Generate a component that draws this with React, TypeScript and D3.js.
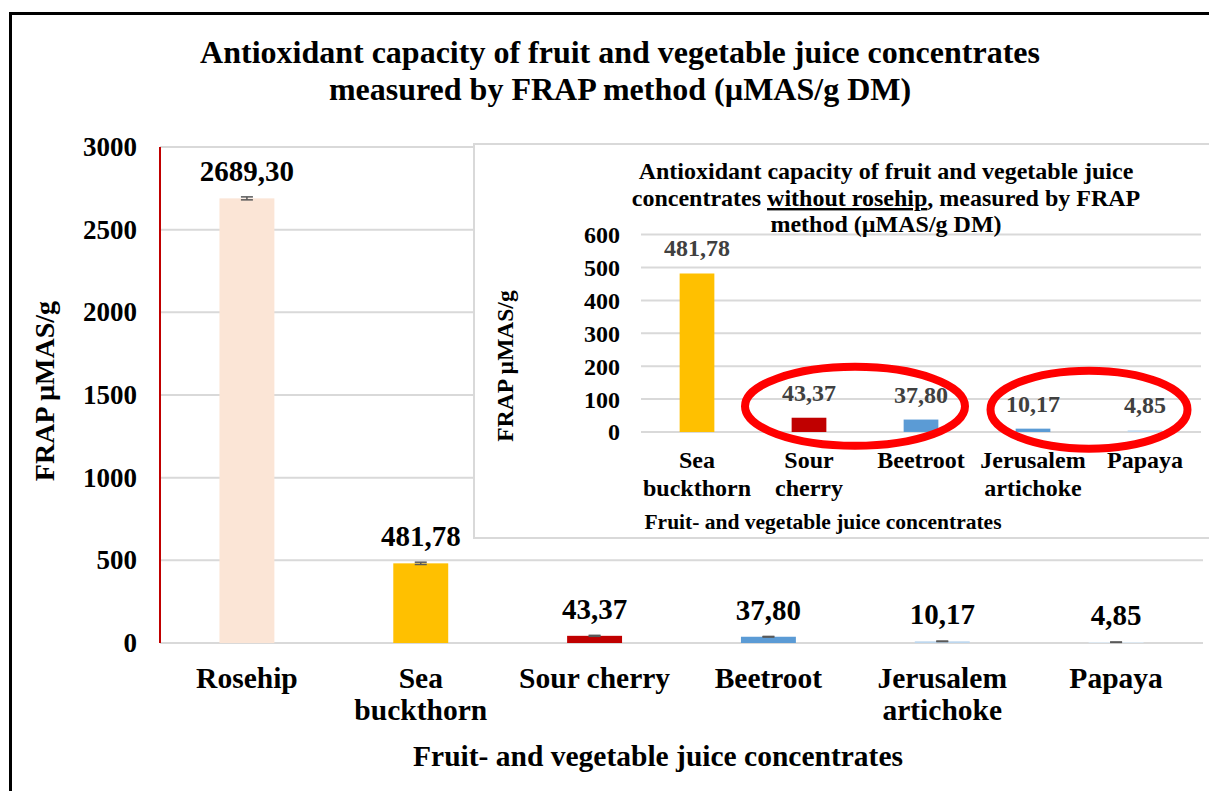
import * as d3 from 'd3';

const categories = ['Rosehip', 'Sea buckthorn', 'Sour cherry', 'Beetroot', 'Jerusalem artichoke', 'Papaya'];
const mainLabelLines = [['Rosehip'], ['Sea', 'buckthorn'], ['Sour cherry'], ['Beetroot'], ['Jerusalem', 'artichoke'], ['Papaya']];
const values = [2689.3, 481.78, 43.37, 37.8, 10.17, 4.85];
const errors = [9, 7, 3, 2, 1.5, 1.2];
const mainColors = ['#FBE5D6', '#FFC000', '#C00000', '#5B9BD5', '#BDD7EE', '#DEEBF7'];
const mainTicks = [0, 500, 1000, 1500, 2000, 2500, 3000];

const insetCategories = categories.slice(1);
const insetLabelLines = [['Sea', 'buckthorn'], ['Sour', 'cherry'], ['Beetroot'], ['Jerusalem', 'artichoke'], ['Papaya']];
const insetValues = values.slice(1);
const insetColors = ['#FFC000', '#C00000', '#5B9BD5', '#5B9BD5', '#BDD7EE'];
const insetTicks = [0, 100, 200, 300, 400, 500, 600];

const titleLines = ['Antioxidant capacity of fruit and vegetable juice concentrates', 'measured by FRAP method (µMAS/g DM)'];
const xTitle = 'Fruit- and vegetable juice concentrates';
const yTitle = 'FRAP µMAS/g';

const FONT = '"Liberation Serif", "Times New Roman", serif';
const fmt = (v: number) => d3.format('.2f')(v).replace('.', ',');

export default function App() {
  // main chart scales
  const x = d3.scaleBand<string>().domain(categories).range([160, 1203]).padding(0);
  const y = d3.scaleLinear().domain([0, 3000]).range([643, 147]);
  const barW = x.bandwidth() * 0.316;
  const cx = (c: string) => (x(c) ?? 0) + x.bandwidth() / 2;

  // inset scales
  const xi = d3.scaleBand<string>().domain(insetCategories).range([641, 1201]).padding(0);
  const yi = d3.scaleLinear().domain([0, 600]).range([432, 234.6]);
  const barWi = xi.bandwidth() * 0.31;
  const cxi = (c: string) => (xi(c) ?? 0) + xi.bandwidth() / 2;

  // annotation ellipses around the small values
  const ell = [
    { cx: (cxi('Sour cherry') + cxi('Beetroot')) / 2 - 10, cy: yi(78), rx: 110, ry: 39.5 },
    { cx: (cxi('Jerusalem artichoke') + cxi('Papaya')) / 2, cy: yi(68), rx: 98.5, ry: 39 },
  ];

  return (
    <div style={{ position: 'fixed', left: 0, top: 0 }}>
      <svg width={1209} height={791} style={{ display: 'block', background: '#fff', fontFamily: FONT }}>
        <rect x={10.5} y={13.5} width={1300} height={900} fill="#fff" stroke="#000" strokeWidth={3} />

        {titleLines.map((t, i) => (
          <text key={t} x={620} y={63 + i * 37} textAnchor="middle" fontSize={32} fontWeight="bold">{t}</text>
        ))}

        {/* gridlines */}
        {mainTicks.map(t => (
          <line key={t} x1={160} x2={1203} y1={y(t)} y2={y(t)} stroke="#D9D9D9" strokeWidth={2} />
        ))}
        <line x1={160} x2={160} y1={y(3000)} y2={y(0)} stroke="#C00000" strokeWidth={2} />

        {mainTicks.map(t => (
          <text key={t} x={137} y={y(t)} dy="0.33em" textAnchor="end" fontSize={27} fontWeight="bold">{t}</text>
        ))}

        {categories.map((c, i) => (
          <g key={c}>
            <rect x={cx(c) - barW / 2} y={y(values[i])} width={barW} height={y(0) - y(values[i])} fill={mainColors[i]} />
            <line x1={cx(c)} x2={cx(c)} y1={y(values[i] + errors[i])} y2={y(values[i] - errors[i])} stroke="#595959" strokeWidth={1.5} />
            <line x1={cx(c) - 6} x2={cx(c) + 6} y1={y(values[i] + errors[i])} y2={y(values[i] + errors[i])} stroke="#595959" strokeWidth={1.5} />
            <line x1={cx(c) - 6} x2={cx(c) + 6} y1={y(values[i] - errors[i])} y2={y(values[i] - errors[i])} stroke="#595959" strokeWidth={1.5} />
            <text x={cx(c)} y={y(values[i]) - 17} textAnchor="middle" fontSize={29} fontWeight="bold">{fmt(values[i])}</text>
            {mainLabelLines[i].map((l, j) => (
              <text key={l} x={cx(c)} y={688 + j * 32} textAnchor="middle" fontSize={29.5} fontWeight="bold">{l}</text>
            ))}
          </g>
        ))}

        <text x={658} y={766} textAnchor="middle" fontSize={29.5} fontWeight="bold">{xTitle}</text>
        <text transform="translate(54,391) rotate(-90)" textAnchor="middle" fontSize={28} fontWeight="bold">{yTitle}</text>

        {/* inset chart */}
        <rect x={474} y={144} width={800} height={394} fill="#fff" stroke="#D9D9D9" strokeWidth={2} />
        {insetTicks.map(t => (
          <line key={t} x1={641} x2={1201} y1={yi(t)} y2={yi(t)} stroke="#D9D9D9" strokeWidth={2} />
        ))}
        <text x={886} y={179} textAnchor="middle" fontSize={24} fontWeight="bold">Antioxidant capacity of fruit and vegetable juice</text>
        <text x={886} y={206} textAnchor="middle" fontSize={24} fontWeight="bold">
          concentrates <tspan style={{ textDecoration: 'underline' }}>without rosehip</tspan>, measured by FRAP
        </text>
        <text x={886} y={232} textAnchor="middle" fontSize={24} fontWeight="bold">method (µMAS/g DM)</text>

        {insetTicks.map(t => (
          <text key={t} x={620} y={yi(t)} dy="0.35em" textAnchor="end" fontSize={24} fontWeight="bold">{t}</text>
        ))}

        {insetCategories.map((c, i) => (
          <g key={c}>
            <rect x={cxi(c) - barWi / 2} y={yi(insetValues[i])} width={barWi} height={yi(0) - yi(insetValues[i])} fill={insetColors[i]} />
            <text x={cxi(c)} y={yi(insetValues[i]) - 17} textAnchor="middle" fontSize={24} fontWeight="bold" fill="#404040">{fmt(insetValues[i])}</text>
            {insetLabelLines[i].map((l, j) => (
              <text key={l} x={cxi(c)} y={468 + j * 28} textAnchor="middle" fontSize={24} fontWeight="bold">{l}</text>
            ))}
          </g>
        ))}

        <text x={823} y={529} textAnchor="middle" fontSize={21.5} fontWeight="bold">{xTitle}</text>
        <text transform="translate(513,366) rotate(-90)" textAnchor="middle" fontSize={23.5} fontWeight="bold">{yTitle}</text>

        {ell.map((e, i) => (
          <ellipse key={i} cx={e.cx} cy={e.cy} rx={e.rx} ry={e.ry} fill="none" stroke="#FF0000" strokeWidth={8} />
        ))}
      </svg>
    </div>
  );
}
